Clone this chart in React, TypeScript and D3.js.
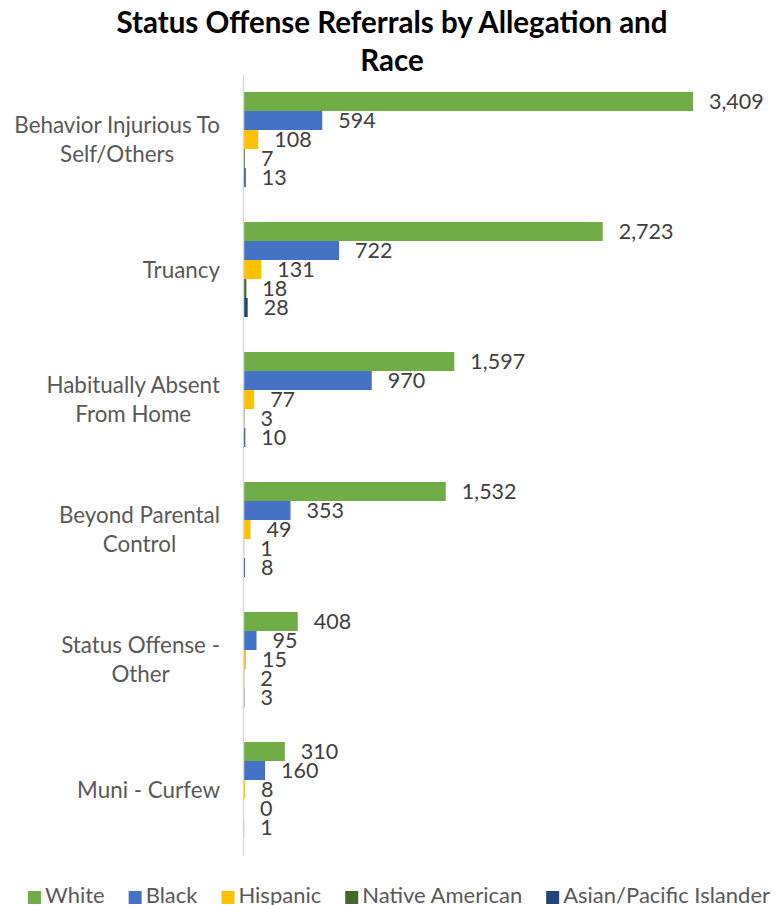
import React, { useEffect, useRef } from "react";
import * as d3 from "d3";

const categories = [
  "Behavior Injurious To\nSelf/Others",
  "Truancy",
  "Habitually Absent\nFrom Home",
  "Beyond Parental\nControl",
  "Status Offense -\nOther",
  "Muni - Curfew",
];
const seriesNames = ["White", "Black", "Hispanic", "Native American", "Asian/Pacific Islander"];
const white = [3409, 2723, 1597, 1532, 408, 310];
const black = [594, 722, 970, 353, 95, 160];
const hispanic = [108, 131, 77, 49, 15, 8];
const nativeAmerican = [7, 18, 3, 1, 2, 0];
const asianPacific = [13, 28, 10, 8, 3, 1];
const seriesColors = ["#70AD47", "#4472C4", "#FFC000", "#43682B", "#264478"];
const titleLines = ["Status Offense Referrals by Allegation and", "Race"];

const W = 778;
const H = 905;
const FONT = "Lato, 'Open Sans', sans-serif";

export default function App() {
  const ref = useRef<SVGSVGElement | null>(null);
  useEffect(() => {
    document.body.style.margin = "0";
    const svg = d3.select(ref.current);
    svg.selectAll("*").remove();
    const values = [white, black, hispanic, nativeAmerican, asianPacific];

    const x = d3.scaleLinear().domain([0, 3500]).range([244, 244 + 461]);
    const y = d3
      .scaleBand<string>()
      .domain(categories)
      .range([74.5, 854.5])
      .paddingInner(35 / 130)
      .paddingOuter(35 / 260);
    const ys = d3.scaleBand<string>().domain(seriesNames).range([0, y.bandwidth()]);

    // title
    svg
      .append("g")
      .selectAll("text")
      .data(titleLines)
      .join("text")
      .attr("x", 392)
      .attr("y", (_, i) => 33 + i * 38)
      .attr("text-anchor", "middle")
      .attr("font-family", FONT)
      .attr("font-weight", "bold")
      .attr("font-size", 29.5)
      .attr("fill", "#000")
      .text((d) => d);

    // bars
    const gBars = svg.append("g");
    seriesNames.forEach((s, si) => {
      const g = gBars.append("g");
      g.selectAll("rect")
        .data(values[si])
        .join("rect")
        .attr("x", x(0))
        .attr("y", (_, i) => (y(categories[i]) as number) + (ys(s) as number))
        .attr("width", (d) => x(d) - x(0))
        .attr("height", ys.bandwidth())
        .attr("fill", seriesColors[si]);
      g.selectAll("text")
        .data(values[si])
        .join("text")
        .attr("x", (d) => x(d) + 16)
        .attr("y", (_, i) => (y(categories[i]) as number) + (ys(s) as number) + ys.bandwidth() / 2)
        .attr("dy", "0.36em")
        .attr("font-family", FONT)
        .attr("font-size", 21.5)
        .attr("fill", "#404040")
        .text((d) => d3.format(",")(d));
    });

    // axis line
    svg
      .append("line")
      .attr("x1", 243.5)
      .attr("x2", 243.5)
      .attr("y1", 75)
      .attr("y2", 856)
      .attr("stroke", "#D9D9D9")
      .attr("stroke-width", 1.5);

    // category labels
    const gCat = svg.append("g");
    categories.forEach((c) => {
      const lines = c.split("\n");
      const cy = (y(c) as number) + y.bandwidth() / 2;
      const lh = 29;
      const t = gCat
        .append("text")
        .attr("font-family", FONT)
        .attr("font-size", 22.4)
        .attr("fill", "#595959")
        .attr("text-anchor", "middle");
      lines.forEach((ln, li) => {
        t.append("tspan")
          .attr("y", cy + (li - (lines.length - 1) / 2) * lh)
          .attr("dy", "0.36em")
          .text(ln);
      });
      const tspans = t.selectAll<SVGTSpanElement, unknown>("tspan").nodes();
      const widths = tspans.map((n) => n.getComputedTextLength());
      const maxW = d3.max(widths) as number;
      const center = 220 - maxW / 2;
      tspans.forEach((n) => d3.select(n).attr("x", center));
    });

    // legend
    const gLeg = svg.append("g");
    const items = seriesNames.map((s, i) => {
      const g = gLeg.append("g");
      g.append("rect").attr("width", 13).attr("height", 13).attr("y", -12).attr("fill", seriesColors[i]);
      const t = g
        .append("text")
        .attr("x", 17)
        .attr("y", 0)
        .attr("font-family", FONT)
        .attr("font-size", 22)
        .attr("fill", "#595959")
        .text(s);
      const w = 17 + (t.node() as SVGTextElement).getComputedTextLength();
      return { g, w };
    });
    const gap = 24;
    const total = d3.sum(items, (d) => d.w) + gap * (items.length - 1);
    let cx = 399 - total / 2;
    items.forEach((it) => {
      it.g.attr("transform", `translate(${cx},903)`);
      cx += it.w + gap;
    });
  }, []);
  return <svg ref={ref} width={W} height={H} style={{ display: "block", background: "#fff" }} />;
}
